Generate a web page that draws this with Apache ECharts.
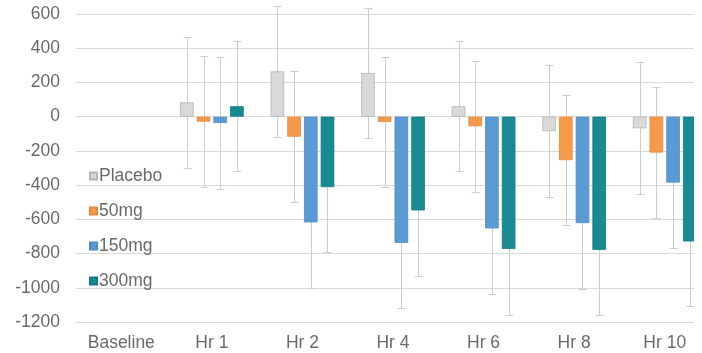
<!DOCTYPE html>
<html>
<head>
<meta charset="utf-8">
<script src="https://cdn.jsdelivr.net/npm/echarts@6/dist/echarts.min.js"></script>
<style>html,body{margin:0;padding:0;background:#fff;}#c{width:702px;height:353px;}</style>
</head>
<body>
<div id="c"></div>
<script>
const categories = ['Baseline', 'Hr 1', 'Hr 2', 'Hr 4', 'Hr 6', 'Hr 8', 'Hr 10'];
const seriesNames = ['Placebo', '50mg', '150mg', '300mg'];
const placebo = [null, 84, 265, 255, 61, -85, -68];
const mg50 = [null, -29, -117, -31, -56, -254, -210];
const mg150 = [null, -37, -618, -738, -653, -622, -385];
const mg300 = [null, 61, -412, -548, -773, -779, -729];
const errPlacebo = [null, 382, 382, 382, 380, 386, 385];
const err50 = [null, 382, 383, 381, 383, 381, 381];
const err150 = [null, 384, 382, 382, 381, 383, 385];
const err300 = [null, 380, 381, 385, 385, 383, 379];
const yTicks = [-1200, -1000, -800, -600, -400, -200, 0, 200, 400, 600];

const values = [placebo, mg50, mg150, mg300];
const errors = [errPlacebo, err50, err150, err300];
const colors = ['#d9d9d9', '#f5994b', '#5b9bd5', '#178a94'];
const borders = ['#b5b5b5', '#e8893a', '#4f8dc7', '#127c85'];
const BAR_FRAC = 0.15, GAP_FRAC = 0.23;

const chart = echarts.init(document.getElementById('c'));
const font = 'Liberation Sans, Arial, sans-serif';
const textColor = '#6a6a6a';

const barSeries = seriesNames.map((n, i) => ({
  name: n, type: 'bar', data: values[i],
  barWidth: (BAR_FRAC * 100) + '%', barGap: (GAP_FRAC * 100) + '%',
  itemStyle: { color: colors[i], borderColor: borders[i], borderWidth: 0.8 },
  z: 3
}));

const errSeries = seriesNames.map((n, i) => ({
  type: 'custom', name: n + ' err', silent: true, z: 2,
  data: categories.map((c, k) => [k, values[i][k], errors[i][k]]),
  encode: { x: 0, y: 1 },
  renderItem: function (params, api) {
    const v = api.value(1), e = api.value(2);
    if (v == null || isNaN(v) || e == null || isNaN(e)) return;
    const k = api.value(0);
    const band = api.size([1, 0])[0];
    const bw = band * BAR_FRAC, gap = bw * GAP_FRAC;
    const off = (i - 1.5) * (bw + gap);
    const top = api.coord([k, v + e]);
    const bot = api.coord([k, v - e]);
    const x = Math.round(top[0] + off) + 0.5;
    const cap = 4;
    const style = { stroke: '#cdcdcd', lineWidth: 1 };
    return { type: 'group', children: [
      { type: 'line', shape: { x1: x, y1: top[1], x2: x, y2: bot[1] }, style: style },
      { type: 'line', shape: { x1: x - cap, y1: Math.round(top[1]) + 0.5, x2: x + cap, y2: Math.round(top[1]) + 0.5 }, style: style },
      { type: 'line', shape: { x1: x - cap, y1: Math.round(bot[1]) + 0.5, x2: x + cap, y2: Math.round(bot[1]) + 0.5 }, style: style }
    ]};
  }
}));

chart.setOption({
  animation: false,
  backgroundColor: '#fff',
  grid: { left: 76, right: -8, top: 14, bottom: 31, containLabel: false, outerBoundsMode: 'none' },
  legend: {
    data: seriesNames, orient: 'vertical', left: 84, top: 162,
    itemWidth: 7, itemHeight: 7, itemGap: 17, icon: 'rect',
    textStyle: { fontFamily: font, fontSize: 17.5, color: textColor, padding: [0, 0, 0, -3] }
  },
  xAxis: {
    type: 'category', data: categories,
    axisLine: { show: false, onZero: false }, axisTick: { show: false },
    axisLabel: { fontFamily: font, fontSize: 17.5, color: textColor, margin: 12 }
  },
  yAxis: {
    type: 'value', min: yTicks[0], max: yTicks[yTicks.length - 1], interval: 200,
    axisLine: { show: false }, axisTick: { show: false },
    axisLabel: { fontFamily: font, fontSize: 17.5, color: textColor, margin: 16, formatter: v => String(v) },
    splitLine: { lineStyle: { color: '#d9d9d9', width: 1 } }
  },
  series: barSeries.concat(errSeries),
  graphic: [{ type: 'rect', shape: { x: 694, y: 0, width: 10, height: 353 }, style: { fill: '#fff' }, z: 100 }]
});
</script>
</body>
</html>
